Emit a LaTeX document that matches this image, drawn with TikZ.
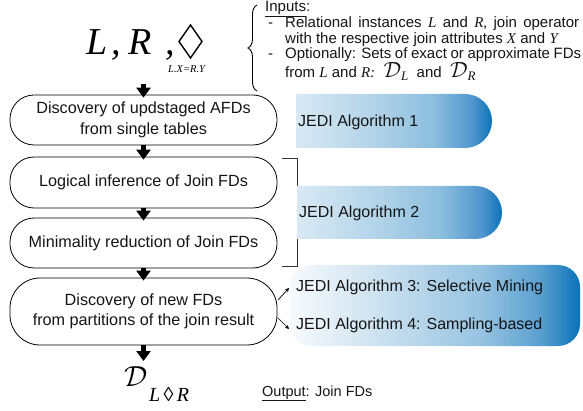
\RequirePackage{fix-cm}
\documentclass[tikz,border=0pt]{standalone}
\usepackage{fontspec}
\setmainfont{Liberation Sans}
\newfontfamily\serif{Liberation Serif}
\usetikzlibrary{arrows.meta,shapes.misc,decorations.pathreplacing}
\definecolor{txt}{HTML}{151515}
\definecolor{jA}{RGB}{216,233,244}
\definecolor{jB}{RGB}{178,211,232}
\definecolor{jC}{RGB}{140,190,222}
\definecolor{jE}{RGB}{80,150,205}
\definecolor{jD}{RGB}{10,115,185}
\definecolor{kA}{RGB}{247,250,253}
\definecolor{kB}{RGB}{205,226,240}
\definecolor{kC}{RGB}{150,195,225}
\definecolor{kE}{RGB}{90,160,208}
\pgfdeclarehorizontalshading{jedione}{100bp}{color(0bp)=(jA); color(25bp)=(jA); color(45bp)=(jB); color(60bp)=(jC); color(70bp)=(jE); color(75bp)=(jD); color(100bp)=(jD)}
\pgfdeclarehorizontalshading{jedithree}{100bp}{color(0bp)=(kA); color(25bp)=(kA); color(40bp)=(kB); color(58bp)=(kC); color(68bp)=(kE); color(75bp)=(jD); color(100bp)=(jD)}
\tikzset{
  flowbox/.style={draw=black, line width=0.8pt, rounded corners=24pt, minimum width=267pt,
    align=center, inner sep=0pt, text=txt, font=\fontsize{16.2}{20.5}\selectfont},
  flowarrow/.style={line width=4.5pt, -{Triangle[length=10pt,width=14pt]}, shorten >=-3pt},
  smallarrow/.style={line width=0.7pt, -{Stealth[length=4pt,width=4pt]}},
  algband/.style={rounded rectangle, rounded rectangle west arc=none, shade, shading=jedione, draw=none, inner sep=0pt},
  algtext/.style={anchor=west, inner sep=0pt, text=txt, font=\fontsize{16}{18}\selectfont},
  intext/.style={anchor=base west, inner sep=0pt, text=txt, font=\fontsize{15}{16}\selectfont},
  bigserif/.style={anchor=base west, inner sep=0pt, font=\serif\itshape\fontsize{38}{38}\selectfont},
}
\begin{document}
\begin{tikzpicture}[x=1pt,y=-1pt]
\useasboundingbox (0,0) rectangle (583,411);

% top formula
\node[bigserif] (fL) at (86,55) {L};
\node[bigserif] (fc1) at (111,55) {,};
\node[bigserif] (fR) at (128,55) {R};
\node[bigserif] (fc2) at (165,55) {,};
\coordinate (dT) at (190.5,25);
\coordinate (dR) at (202,41.5);
\coordinate (dB) at (190.5,58);
\coordinate (dL) at (179,41.5);
\draw[line width=1.4pt, line join=miter] (dT) -- (dR) -- (dB) -- (dL) -- cycle;
\node[anchor=base west, inner sep=0pt, font=\serif\itshape\fontsize{10.5}{10.5}\selectfont] (fsub) at (168,73) {L.X=R.Y};
\coordinate (astart) at (143.5,84);

% brace and inputs
\draw[line width=0.9pt, decorate, decoration={brace, amplitude=9pt}] (257,91) -- (257,5);
\node[intext] (inh) at (265,12) {\underline{Inputs}:};
\node[intext] (d1) at (268,28) {-};
\node[intext] (in1) at (285,28) {\makebox[294pt][s]{Relational instances {\serif\itshape L} and {\serif\itshape R,} join operator}};
\node[intext] (in2) at (285,44) {with the respective join attributes {\serif\itshape X} and {\serif\itshape Y}};
\node[intext] (d2) at (268,59) {-};
\node[intext] (in3) at (285,59) {\makebox[296pt][s]{Optionally: Sets of exact or approximate FDs}};
\node[intext] (in4) at (285,78) {from {\serif\itshape L} and {\serif\itshape R:}\ \ {\fontsize{22}{22}\selectfont$\mathcal{D}$}\hbox{\serif\itshape\fontsize{13}{13}\selectfont\raisebox{-3pt}{L}}\ \ and\ \ {\fontsize{22}{22}\selectfont$\mathcal{D}$}\hbox{\serif\itshape\fontsize{13}{13}\selectfont\raisebox{-3pt}{R}}};

% flow boxes
\node[flowbox, minimum height=50pt] (b1) at (143.5,120) {Discovery of updstaged AFDs\\from single tables};
\node[flowbox, minimum height=51pt] (b2) at (143.5,182.5) {Logical inference of Join FDs};
\node[flowbox, minimum height=50pt] (b3) at (143.5,243) {Minimality reduction of Join FDs};
\node[flowbox, minimum height=67pt, rounded corners=30pt] (b4) at (143.5,311.5) {Discovery of new FDs\\from partitions of the join result};

% output formula
\node[anchor=base west, inner sep=0pt, font=\fontsize{29}{29}\selectfont] (outD) at (124,386) {$\mathcal{D}$};
\node[anchor=base west, inner sep=0pt, font=\serif\fontsize{20}{20}\selectfont] (outsub) at (149,401) {\textit{L}\,◊\,\textit{R}};
\coordinate (aend) at (143.5,358);

% thick arrows
\draw[flowarrow] (astart) -- (b1.north);
\draw[flowarrow] (b1.south) -- (b2.north);
\draw[flowarrow] (b2.south) -- (b3.north);
\draw[flowarrow] (b3.south) -- (b4.north);
\draw[flowarrow] (b4.south) -- (aend);

% bracket
\coordinate (brt) at (282,158);
\coordinate (brb) at (282,266);
\draw[line width=0.8pt, draw=black!80] (brt) -- (297,158) -- (297,266) -- (brb);

% algorithm bands
\node[algband, minimum width=196pt, minimum height=54pt] (alg1) at (394,121) {};
\node[algtext] (alg1t) at (298,122) {JEDI Algorithm 1};
\node[algband, minimum width=205pt, minimum height=53pt] (alg2) at (399.5,212.5) {};
\node[algtext] (alg2t) at (299,213) {JEDI Algorithm 2};
\node[draw=none, shade, shading=jedithree, rounded corners=22pt, minimum width=290pt, minimum height=81pt, inner sep=0pt] (alg34) at (435,305.5) {};
\node[algtext] (alg3t) at (296,287) {JEDI Algorithm 3: Selective Mining};
\node[algtext] (alg4t) at (296,325) {JEDI Algorithm 4: Sampling-based};

% small arrows
\coordinate (s3a) at (278,300);
\coordinate (s3b) at (289,288);
\coordinate (s4a) at (278,318);
\coordinate (s4b) at (289,329);
\draw[smallarrow] (s3a) -- (s3b);
\draw[smallarrow] (s4a) -- (s4b);

% output label
\node[anchor=base west, inner sep=0pt, text=txt, font=\fontsize{14.5}{16}\selectfont] (outl) at (262,396) {\underline{Output}: Join FDs};
\end{tikzpicture}
\end{document}
